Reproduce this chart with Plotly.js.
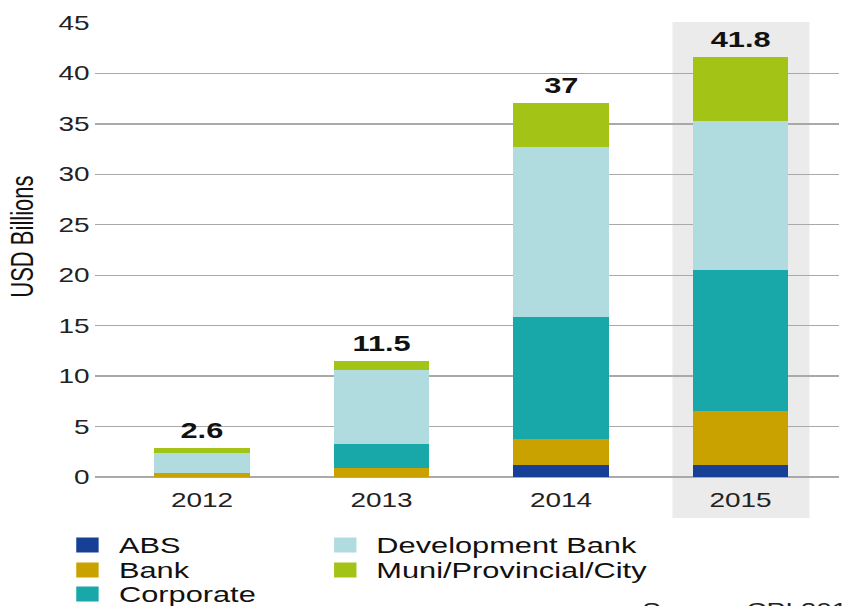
<!DOCTYPE html>
<html>
<head>
<meta charset="utf-8">
<script src="https://cdn.plot.ly/plotly-3.0.1.min.js"></script>
<style>
html, body { margin: 0; padding: 0; overflow: hidden; background: #fff; }
#chart { width: 604px; height: 606px; transform: scaleX(1.399); transform-origin: 0 0; }
</style>
</head>
<body>
<div id="chart"></div>
<script>
// ---- data ----
var years = ['2012', '2013', '2014', '2015'];
var seriesNames = ['ABS', 'Bank', 'Corporate', 'Development Bank', 'Muni/Provincial/City'];
var absVals = [0, 0, 1.2, 1.2];
var bankVals = [0.35, 0.9, 2.6, 5.3];
var corporateVals = [0, 2.4, 12.1, 14.0];
var devBankVals = [2.0, 7.3, 16.85, 14.8];
var muniVals = [0.5, 0.9, 4.35, 6.35];
var totalLabels = ['2.6', '11.5', '37', '41.8'];
var yTickVals = [0, 5, 10, 15, 20, 25, 30, 35, 40, 45];

// ---- styling ----
var colors = ['#163f96', '#c9a200', '#19a8a9', '#b1dcdf', '#a3c417'];
var FONT = 'Liberation Sans, Arial, Helvetica, sans-serif';
var W = 604, L = 68, R = 4, T = 23, B = 129, H = 606;
var PW = W - L - R, PH = H - T - B;
function px(xpre) { return (xpre - L) / PW; }
function py(ytarget) { return (477 - ytarget) / PH; }

var seriesVals = [absVals, bankVals, corporateVals, devBankVals, muniVals];
var traces = seriesVals.map(function (vals, i) {
  return {
    type: 'bar', x: years, y: vals, name: seriesNames[i],
    marker: { color: colors[i], line: { width: 0 } },
    width: 0.53, showlegend: false, hoverinfo: 'none'
  };
});

var annotations = [];
years.forEach(function (yr, j) {
  var tot = 0;
  seriesVals.forEach(function (v) { tot += v[j]; });
  annotations.push({
    x: j, y: tot, xref: 'x', yref: 'y', text: '<b>' + totalLabels[j] + '</b>',
    showarrow: false, yanchor: 'bottom', yshift: 3,
    font: { family: FONT, size: 22, color: '#111' }
  });
});

// y-axis title
annotations.push({
  xref: 'paper', yref: 'paper', x: px(15.7), y: py(237), text: 'USD Billions',
  textangle: -90, showarrow: false, xanchor: 'center', yanchor: 'middle',
  font: { family: FONT, size: 22, color: '#111' }
});

// custom legend (column-major)
var shapes = [{
  type: 'rect', layer: 'below', xref: 'x', yref: 'paper',
  x0: 2.621, x1: 3.384, y0: py(518), y1: py(22),
  fillcolor: '#ebebeb', line: { width: 0 }
}];
var legPos = [
  { sx: 62.5, tx: 83.0, y: 545 },
  { sx: 62.5, tx: 83.0, y: 570 },
  { sx: 62.5, tx: 83.0, y: 594 },
  { sx: 246.8, tx: 267.0, y: 545 },
  { sx: 246.8, tx: 267.0, y: 570 }
];
seriesNames.forEach(function (nm, i) {
  var p = legPos[i];
  shapes.push({
    type: 'rect', xref: 'paper', yref: 'paper',
    x0: px(p.sx - 8), x1: px(p.sx + 8), y0: py(p.y + 7.5), y1: py(p.y - 7.5),
    fillcolor: colors[i], line: { width: 0 }
  });
  annotations.push({
    xref: 'paper', yref: 'paper', x: px(p.tx), y: py(p.y), text: nm,
    showarrow: false, xanchor: 'left', yanchor: 'middle',
    font: { family: FONT, size: 22, color: '#111' }
  });
});

// source note (cut off at the bottom edge, as in the original)
annotations.push({
  xref: 'paper', yref: 'paper', x: px(640 / 1.399), y: py(597), text: 'Source: CPI 2016',
  showarrow: false, xanchor: 'left', yanchor: 'top',
  font: { family: FONT, size: 20, color: '#222' }
});

var layout = {
  width: W, height: H,
  margin: { l: L, r: R, t: T, b: B, pad: 0 },
  paper_bgcolor: '#fff', plot_bgcolor: 'rgba(0,0,0,0)',
  barmode: 'stack', showlegend: false,
  xaxis: {
    type: 'category', range: [-0.5955, 3.551], showgrid: false, zeroline: false,
    showline: false, ticks: '', ticklabelstandoff: 9,
    tickfont: { family: FONT, size: 20, color: '#222' }
  },
  yaxis: {
    range: [0, 45], tickvals: yTickVals, showgrid: true, gridcolor: '#a9a9a9', gridwidth: 1.3,
    zeroline: true, zerolinecolor: '#a9a9a9', zerolinewidth: 1.3, showline: false, ticks: '',
    ticklabelstandoff: 3,
    tickfont: { family: FONT, size: 20, color: '#222' }
  },
  shapes: shapes,
  annotations: annotations
};

Plotly.newPlot('chart', traces, layout, { displayModeBar: false, staticPlot: true });
</script>
</body>
</html>
